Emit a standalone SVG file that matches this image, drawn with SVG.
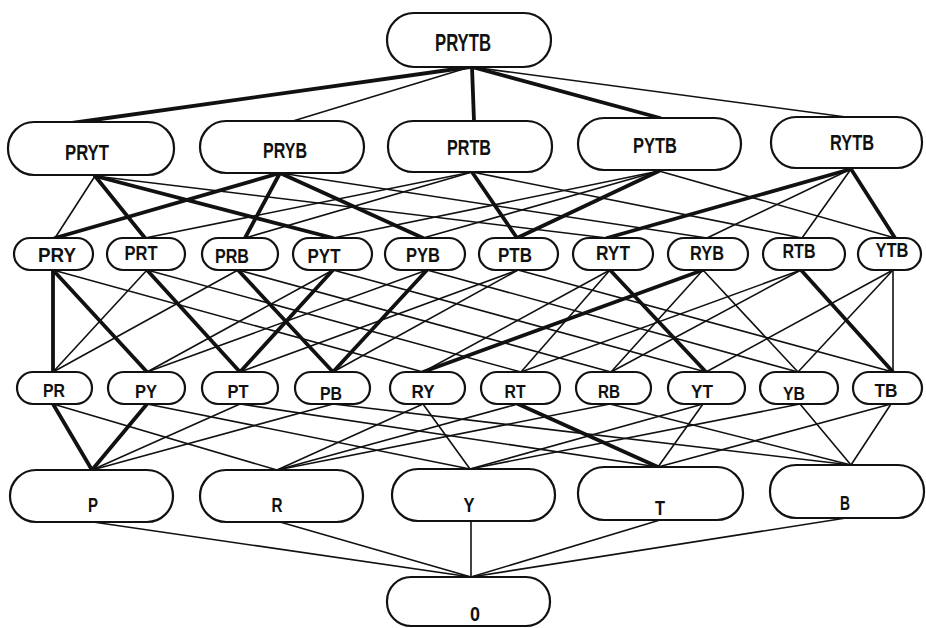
<svg xmlns="http://www.w3.org/2000/svg" width="926" height="628" viewBox="0 0 926 628">
<style>
.n{fill:#fff;stroke:#111;stroke-width:2.2}
.t{font-family:"Liberation Sans",Arial,sans-serif;font-weight:bold;fill:#111;text-anchor:middle}
.l5{font-size:23px}.l4{font-size:22px}.l3{font-size:21px}.l2{font-size:19px}.l1{font-size:21px}
#edges line{stroke:#111;stroke-linecap:round}
.th{stroke-width:1.6}
.bd{stroke-width:3.8}
</style>
<rect width="926" height="628" fill="#fff"/>
<g id="edges">
<line class="bd" x1="470" y1="67" x2="72" y2="123"/>
<line class="th" x1="470" y1="67" x2="293" y2="121"/>
<line class="bd" x1="472" y1="67" x2="474" y2="121"/>
<line class="bd" x1="472" y1="67" x2="660" y2="118"/>
<line class="th" x1="472" y1="67" x2="846" y2="117"/>
<line class="th" x1="95" y1="176" x2="55" y2="238"/>
<line class="bd" x1="95" y1="176" x2="145" y2="238"/>
<line class="bd" x1="95" y1="176" x2="333" y2="238"/>
<line class="th" x1="95" y1="176" x2="607" y2="238"/>
<line class="bd" x1="280" y1="173" x2="55" y2="238"/>
<line class="bd" x1="280" y1="173" x2="245" y2="238"/>
<line class="bd" x1="280" y1="173" x2="423" y2="238"/>
<line class="th" x1="280" y1="173" x2="707" y2="238"/>
<line class="th" x1="472" y1="172" x2="145" y2="238"/>
<line class="th" x1="472" y1="172" x2="245" y2="238"/>
<line class="bd" x1="472" y1="172" x2="517" y2="238"/>
<line class="th" x1="472" y1="172" x2="802" y2="238"/>
<line class="th" x1="659" y1="171" x2="333" y2="238"/>
<line class="th" x1="659" y1="171" x2="423" y2="238"/>
<line class="bd" x1="659" y1="171" x2="517" y2="238"/>
<line class="th" x1="659" y1="171" x2="895" y2="238"/>
<line class="bd" x1="851" y1="169" x2="607" y2="238"/>
<line class="th" x1="851" y1="169" x2="707" y2="238"/>
<line class="th" x1="851" y1="169" x2="802" y2="238"/>
<line class="bd" x1="851" y1="169" x2="895" y2="238"/>
<line class="bd" x1="53" y1="270" x2="53" y2="372"/>
<line class="bd" x1="53" y1="270" x2="147" y2="372"/>
<line class="th" x1="53" y1="270" x2="423" y2="372"/>
<line class="th" x1="147" y1="270" x2="53" y2="372"/>
<line class="bd" x1="147" y1="270" x2="240" y2="372"/>
<line class="th" x1="147" y1="270" x2="521" y2="372"/>
<line class="th" x1="238" y1="270" x2="53" y2="372"/>
<line class="bd" x1="238" y1="270" x2="333" y2="372"/>
<line class="th" x1="238" y1="270" x2="611" y2="372"/>
<line class="th" x1="333" y1="270" x2="147" y2="372"/>
<line class="bd" x1="333" y1="270" x2="240" y2="372"/>
<line class="th" x1="333" y1="270" x2="706" y2="372"/>
<line class="th" x1="427" y1="270" x2="147" y2="372"/>
<line class="bd" x1="427" y1="270" x2="333" y2="372"/>
<line class="th" x1="427" y1="270" x2="798" y2="372"/>
<line class="th" x1="518" y1="270" x2="240" y2="372"/>
<line class="th" x1="518" y1="270" x2="333" y2="372"/>
<line class="th" x1="518" y1="270" x2="893" y2="372"/>
<line class="th" x1="610" y1="270" x2="423" y2="372"/>
<line class="th" x1="610" y1="270" x2="521" y2="372"/>
<line class="bd" x1="610" y1="270" x2="706" y2="372"/>
<line class="bd" x1="703" y1="270" x2="423" y2="372"/>
<line class="th" x1="703" y1="270" x2="611" y2="372"/>
<line class="th" x1="703" y1="270" x2="798" y2="372"/>
<line class="th" x1="801" y1="270" x2="521" y2="372"/>
<line class="th" x1="801" y1="270" x2="611" y2="372"/>
<line class="bd" x1="801" y1="270" x2="893" y2="372"/>
<line class="th" x1="893" y1="270" x2="706" y2="372"/>
<line class="th" x1="893" y1="270" x2="798" y2="372"/>
<line class="th" x1="893" y1="270" x2="893" y2="372"/>
<line class="bd" x1="53" y1="404" x2="92" y2="470"/>
<line class="th" x1="53" y1="404" x2="277" y2="470"/>
<line class="bd" x1="147" y1="404" x2="92" y2="470"/>
<line class="th" x1="147" y1="404" x2="470" y2="469"/>
<line class="th" x1="240" y1="404" x2="92" y2="470"/>
<line class="th" x1="240" y1="404" x2="658" y2="467"/>
<line class="th" x1="333" y1="404" x2="92" y2="470"/>
<line class="th" x1="333" y1="404" x2="851" y2="465"/>
<line class="th" x1="423" y1="404" x2="277" y2="470"/>
<line class="th" x1="423" y1="404" x2="470" y2="469"/>
<line class="th" x1="518" y1="404" x2="277" y2="470"/>
<line class="bd" x1="518" y1="404" x2="658" y2="467"/>
<line class="th" x1="610" y1="404" x2="277" y2="470"/>
<line class="th" x1="610" y1="404" x2="851" y2="465"/>
<line class="th" x1="703" y1="404" x2="470" y2="469"/>
<line class="th" x1="703" y1="404" x2="658" y2="467"/>
<line class="th" x1="800" y1="404" x2="470" y2="469"/>
<line class="th" x1="800" y1="404" x2="851" y2="465"/>
<line class="th" x1="891" y1="404" x2="658" y2="467"/>
<line class="th" x1="891" y1="404" x2="851" y2="465"/>
<line class="th" x1="93" y1="522" x2="471" y2="577"/>
<line class="th" x1="280" y1="522" x2="471" y2="577"/>
<line class="th" x1="471" y1="521" x2="471" y2="577"/>
<line class="th" x1="660" y1="520" x2="471" y2="577"/>
<line class="th" x1="846" y1="518" x2="471" y2="577"/>
</g>
<g id="n-PRYTB"><rect class="n" x="387" y="13" width="164" height="54" rx="27"/><text class="t l5" x="463" y="51" textLength="56" lengthAdjust="spacingAndGlyphs">PRYTB</text></g>
<g id="n-PRYT"><rect class="n" x="8" y="122" width="166" height="53" rx="26"/><text class="t l4" x="87" y="160" textLength="44" lengthAdjust="spacingAndGlyphs">PRYT</text></g>
<g id="n-PRYB"><rect class="n" x="200" y="121" width="164" height="52" rx="26"/><text class="t l4" x="285" y="158" textLength="44" lengthAdjust="spacingAndGlyphs">PRYB</text></g>
<g id="n-PRTB"><rect class="n" x="388" y="121" width="164" height="51" rx="25"/><text class="t l4" x="469" y="155" textLength="44" lengthAdjust="spacingAndGlyphs">PRTB</text></g>
<g id="n-PYTB"><rect class="n" x="578" y="118" width="163" height="52" rx="26"/><text class="t l4" x="655" y="153" textLength="44" lengthAdjust="spacingAndGlyphs">PYTB</text></g>
<g id="n-RYTB"><rect class="n" x="771" y="117" width="151" height="51" rx="25"/><text class="t l4" x="852" y="150" textLength="44" lengthAdjust="spacingAndGlyphs">RYTB</text></g>
<g id="n-PRY"><rect class="n" x="14" y="238" width="79" height="32" rx="16"/><text class="t l3" x="57" y="262" textLength="38" lengthAdjust="spacingAndGlyphs">PRY</text></g>
<g id="n-PRT"><rect class="n" x="107" y="238" width="78" height="32" rx="16"/><text class="t l3" x="141" y="260" textLength="33" lengthAdjust="spacingAndGlyphs">PRT</text></g>
<g id="n-PRB"><rect class="n" x="202" y="238" width="76" height="32" rx="16"/><text class="t l3" x="232" y="263" textLength="34" lengthAdjust="spacingAndGlyphs">PRB</text></g>
<g id="n-PYT"><rect class="n" x="293" y="238" width="79" height="32" rx="16"/><text class="t l3" x="324" y="263" textLength="33" lengthAdjust="spacingAndGlyphs">PYT</text></g>
<g id="n-PYB"><rect class="n" x="385" y="238" width="80" height="32" rx="16"/><text class="t l3" x="423" y="262" textLength="34" lengthAdjust="spacingAndGlyphs">PYB</text></g>
<g id="n-PTB"><rect class="n" x="479" y="238" width="79" height="32" rx="16"/><text class="t l3" x="515" y="262" textLength="34" lengthAdjust="spacingAndGlyphs">PTB</text></g>
<g id="n-RYT"><rect class="n" x="573" y="238" width="80" height="32" rx="16"/><text class="t l3" x="613" y="260" textLength="34" lengthAdjust="spacingAndGlyphs">RYT</text></g>
<g id="n-RYB"><rect class="n" x="668" y="238" width="80" height="32" rx="16"/><text class="t l3" x="707" y="260" textLength="34" lengthAdjust="spacingAndGlyphs">RYB</text></g>
<g id="n-RTB"><rect class="n" x="763" y="238" width="82" height="32" rx="16"/><text class="t l3" x="799" y="258" textLength="33" lengthAdjust="spacingAndGlyphs">RTB</text></g>
<g id="n-YTB"><rect class="n" x="858" y="238" width="63" height="32" rx="16"/><text class="t l3" x="892" y="257" textLength="33" lengthAdjust="spacingAndGlyphs">YTB</text></g>
<g id="n-PR"><rect class="n" x="17" y="372" width="75" height="32" rx="16"/><text class="t l2" x="54" y="397" textLength="22" lengthAdjust="spacingAndGlyphs">PR</text></g>
<g id="n-PY"><rect class="n" x="108" y="372" width="77" height="32" rx="16"/><text class="t l2" x="146" y="398" textLength="22" lengthAdjust="spacingAndGlyphs">PY</text></g>
<g id="n-PT"><rect class="n" x="202" y="372" width="76" height="32" rx="16"/><text class="t l2" x="238" y="398" textLength="21" lengthAdjust="spacingAndGlyphs">PT</text></g>
<g id="n-PB"><rect class="n" x="295" y="372" width="75" height="32" rx="16"/><text class="t l2" x="331" y="400" textLength="22" lengthAdjust="spacingAndGlyphs">PB</text></g>
<g id="n-RY"><rect class="n" x="390" y="372" width="75" height="32" rx="16"/><text class="t l2" x="423" y="398" textLength="23" lengthAdjust="spacingAndGlyphs">RY</text></g>
<g id="n-RT"><rect class="n" x="481" y="372" width="79" height="32" rx="16"/><text class="t l2" x="515" y="398" textLength="21" lengthAdjust="spacingAndGlyphs">RT</text></g>
<g id="n-RB"><rect class="n" x="576" y="372" width="75" height="32" rx="16"/><text class="t l2" x="609" y="398" textLength="22" lengthAdjust="spacingAndGlyphs">RB</text></g>
<g id="n-YT"><rect class="n" x="668" y="372" width="77" height="32" rx="16"/><text class="t l2" x="702" y="398" textLength="22" lengthAdjust="spacingAndGlyphs">YT</text></g>
<g id="n-YB"><rect class="n" x="760" y="372" width="78" height="32" rx="16"/><text class="t l2" x="794" y="400" textLength="22" lengthAdjust="spacingAndGlyphs">YB</text></g>
<g id="n-TB"><rect class="n" x="853" y="372" width="69" height="32" rx="16"/><text class="t l2" x="886" y="397" textLength="23" lengthAdjust="spacingAndGlyphs">TB</text></g>
<g id="n-P"><rect class="n" x="10" y="470" width="163" height="52" rx="26"/><text class="t l1" x="93" y="512" textLength="10" lengthAdjust="spacingAndGlyphs">P</text></g>
<g id="n-R"><rect class="n" x="200" y="470" width="163" height="52" rx="26"/><text class="t l1" x="277" y="512" textLength="11" lengthAdjust="spacingAndGlyphs">R</text></g>
<g id="n-Y"><rect class="n" x="392" y="469" width="163" height="52" rx="26"/><text class="t l1" x="469" y="512" textLength="11" lengthAdjust="spacingAndGlyphs">Y</text></g>
<g id="n-T"><rect class="n" x="578" y="467" width="165" height="53" rx="26"/><text class="t l1" x="660" y="515" textLength="10" lengthAdjust="spacingAndGlyphs">T</text></g>
<g id="n-B"><rect class="n" x="770" y="465" width="154" height="53" rx="26"/><text class="t l1" x="845" y="510" textLength="10" lengthAdjust="spacingAndGlyphs">B</text></g>
<g id="n-0"><rect class="n" x="387" y="577" width="163" height="49" rx="24"/><text class="t l1" x="475" y="621" textLength="10" lengthAdjust="spacingAndGlyphs">0</text></g>
</svg>
